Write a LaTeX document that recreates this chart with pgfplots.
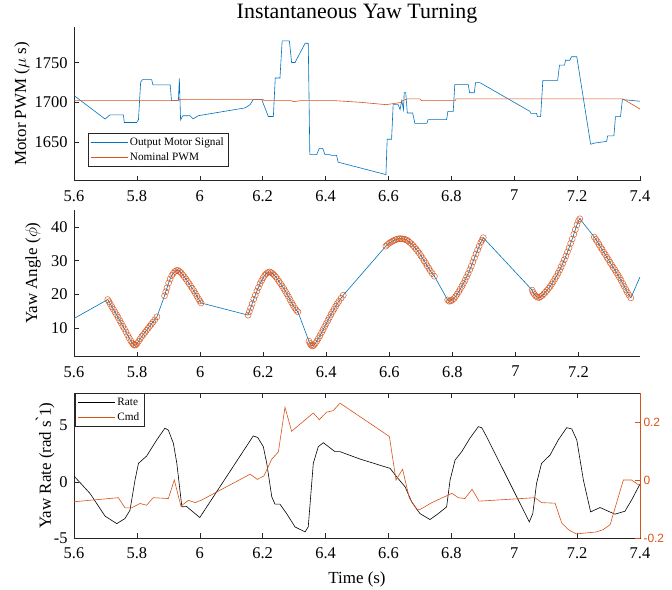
\documentclass[border=0pt]{standalone}
\usepackage{fontspec}
\setmainfont{Liberation Serif}
\newfontfamily\helv{Liberation Sans}
\usepackage{pgfplots}
\usepackage{pgfplotstable}
\pgfplotsset{compat=1.18}
\definecolor{mblue}{rgb}{0,0.447,0.741}
\definecolor{morange}{rgb}{0.85,0.325,0.098}
\definecolor{axgray}{rgb}{0.15,0.15,0.15}
\pgfplotsset{
 myaxis/.style={
  scale only axis, width=566bp, anchor=south west,
  xmin=5.6, xmax=7.4,
  /pgf/number format/assume math mode=true,
  /pgf/number format/1000 sep={},
  tick label style={font=\fontsize{16.5}{18}\selectfont},
  xticklabel style={yshift=-6bp},
  yticklabel style={xshift=-3bp},
  label style={font=\fontsize{17}{19}\selectfont},
  axis line style={axgray, line width=0.5bp},
  every tick/.style={axgray, line width=0.5bp},
  major tick length=5bp,
  xtick={5.6,5.8,6,6.2,6.4,6.6,6.8,7,7.2,7.4},
  tick align=inside,
  legend cell align=left,
  legend style={draw=axgray, line width=0.5bp, fill=white, font=\fontsize{11.3}{13}\selectfont,
    inner sep=2.5bp, row sep=1.5bp},
  legend image code/.code={\draw[#1] (0bp,0bp) -- (37bp,0bp);},
 },
 nobox/.style={axis lines*=left, axis line style={-}, tick align=inside},
}
% yaw angle samples that carry circle markers
\pgfplotstableread{
x y
5.707 18.5
5.711 17.9
5.715 17.2
5.720 16.4
5.725 15.6
5.730 14.8
5.735 14.0
5.740 13.2
5.745 12.3
5.750 11.5
5.755 10.6
5.760 9.8
5.765 8.9
5.770 8.0
5.775 7.1
5.780 6.3
5.785 5.6
5.789 5.2
5.792 5.0
5.796 5.1
5.800 5.5
5.805 6.2
5.810 6.9
5.815 7.6
5.820 8.2
5.825 8.8
5.830 9.4
5.835 10.0
5.840 10.6
5.845 11.2
5.850 11.8
5.856 12.5
5.863 13.4
5.887 19.6
5.891 20.8
5.895 22.0
5.900 23.4
5.905 24.6
5.910 25.6
5.915 26.3
5.920 26.8
5.925 27.1
5.930 27.1
5.935 26.8
5.940 26.4
5.945 25.8
5.950 25.2
5.955 24.6
5.960 23.9
5.965 23.2
5.970 22.5
5.975 21.8
5.980 21.1
5.985 20.3
5.990 19.5
5.995 18.7
5.999 18.1
6.003 17.5
6.152 13.9
6.156 14.9
6.160 16.0
6.165 17.3
6.170 18.6
6.175 19.8
6.180 21.0
6.185 22.1
6.190 23.2
6.195 24.1
6.200 25.0
6.205 25.7
6.210 26.2
6.215 26.5
6.220 26.7
6.225 26.5
6.230 26.2
6.235 25.7
6.240 25.2
6.245 24.6
6.250 23.9
6.255 23.2
6.260 22.5
6.265 21.8
6.270 21.0
6.275 20.2
6.280 19.4
6.285 18.5
6.290 17.6
6.295 16.8
6.300 16.0
6.305 15.4
6.310 14.9
6.345 6.2
6.349 5.5
6.352 5.0
6.356 4.8
6.360 4.9
6.365 5.5
6.370 6.2
6.375 7.0
6.380 7.8
6.385 8.7
6.390 9.6
6.395 10.5
6.400 11.4
6.405 12.3
6.410 13.2
6.415 14.1
6.420 14.9
6.425 15.7
6.430 16.5
6.435 17.3
6.440 18.0
6.447 18.9
6.454 19.8
6.589 34.3
6.594 34.8
6.600 35.2
6.605 35.5
6.610 35.8
6.615 36.0
6.620 36.2
6.625 36.4
6.630 36.5
6.635 36.5
6.640 36.5
6.645 36.4
6.650 36.3
6.655 36.1
6.660 35.8
6.665 35.4
6.670 35.0
6.675 34.5
6.680 34.0
6.685 33.4
6.690 32.8
6.695 32.2
6.700 31.5
6.705 30.8
6.710 30.0
6.715 29.3
6.720 28.5
6.725 27.8
6.730 27.0
6.736 26.2
6.743 25.4
6.785 18.4
6.790 18.0
6.795 18.1
6.800 18.4
6.805 18.8
6.810 19.4
6.815 20.1
6.820 20.8
6.825 21.6
6.830 22.4
6.835 23.3
6.840 24.2
6.845 25.2
6.850 26.2
6.855 27.3
6.860 28.4
6.865 29.6
6.870 30.8
6.875 32.0
6.880 33.2
6.885 34.3
6.890 35.4
6.894 36.1
6.898 36.8
7.053 21.3
7.056 20.6
7.060 20.0
7.065 19.5
7.070 19.2
7.075 19.1
7.080 19.4
7.085 19.7
7.090 20.2
7.095 20.7
7.100 21.2
7.105 21.8
7.110 22.4
7.115 23.1
7.120 23.8
7.125 24.6
7.130 25.4
7.135 26.3
7.140 27.2
7.145 28.2
7.150 29.2
7.155 30.3
7.160 31.4
7.165 32.6
7.170 33.8
7.175 35.1
7.180 36.4
7.185 37.8
7.190 39.2
7.195 40.6
7.200 41.8
7.204 42.4
7.250 37.0
7.255 36.3
7.260 35.6
7.265 34.8
7.270 34.0
7.275 33.3
7.280 32.5
7.285 31.8
7.290 31.0
7.295 30.3
7.300 29.5
7.305 28.8
7.310 28.0
7.315 27.3
7.320 26.5
7.325 25.8
7.330 25.0
7.335 24.2
7.340 23.3
7.345 22.4
7.350 21.5
7.355 20.6
7.360 19.8
7.366 19.0
}\anglecirc
\begin{document}
\begin{tikzpicture}
\useasboundingbox (0,0) rectangle (672bp,590bp);
% ---------------- top panel
\begin{axis}[myaxis, nobox, at={(74bp,409.3bp)}, height=153.7bp,
  ymin=1601, ymax=1795, ytick={1650,1700,1750},
  ylabel={Motor PWM ($\mu$ s)},
  ylabel style={at={(axis description cs:-0.092,0.5)}, anchor=center},
  title={Instantaneous Yaw Turning},
  title style={font=\fontsize{22}{24}\selectfont, at={(axis description cs:0.5,1)}, anchor=base, yshift=3bp},
  legend style={at={(axis description cs:0.024,0.312)}, anchor=north west},
]
\addplot[mblue, line width=0.6bp] coordinates {
(5.600,1708.5)(5.699,1678.8)(5.714,1684.0)(5.757,1684.0)(5.760,1674.5)(5.799,1674.5)(5.805,1678.0)
(5.812,1725.5)(5.818,1728.6)(5.847,1728.6)(5.851,1722.0)(5.906,1722.0)(5.910,1702.0)(5.932,1702.0)
(5.935,1730.0)(5.939,1677.5)(5.946,1683.0)(5.969,1683.0)(5.979,1679.0)(5.995,1683.0)
(6.144,1692.9)(6.160,1697.0)(6.170,1703.4)(6.197,1703.4)(6.218,1682.0)(6.234,1682.0)(6.240,1730.6)
(6.255,1730.6)(6.262,1777.4)(6.285,1777.4)(6.292,1750.2)(6.303,1750.2)(6.335,1774.5)(6.345,1774.5)
(6.350,1634.0)(6.372,1634.0)(6.380,1641.8)(6.391,1641.8)(6.398,1634.0)(6.414,1634.0)(6.418,1633.0)
(6.435,1633.0)(6.440,1624.4)(6.592,1608.7)(6.596,1653.3)(6.610,1653.3)(6.615,1697.0)(6.631,1697.0)
(6.637,1690.7)(6.642,1702.0)(6.648,1690.7)(6.650,1712.0)(6.655,1712.0)(6.660,1686.5)(6.677,1686.5)
(6.684,1673.3)(6.722,1673.3)(6.726,1678.0)(6.785,1678.0)(6.789,1688.5)(6.806,1688.5)(6.811,1722.2)
(6.854,1722.2)(6.858,1712.0)(6.873,1712.0)(6.877,1724.7)(6.891,1724.7)(7.050,1688.5)(7.053,1686.0)
(7.071,1686.0)(7.074,1681.8)(7.084,1681.8)(7.091,1727.7)(7.138,1727.7)(7.144,1746.8)(7.160,1746.8)
(7.163,1753.0)(7.177,1753.0)(7.182,1757.4)(7.199,1757.4)(7.243,1647.0)(7.257,1648.6)(7.294,1650.6)
(7.297,1657.5)(7.317,1657.5)(7.322,1681.8)(7.338,1681.8)(7.344,1703.4)(7.400,1701.3)
};
\addlegendentry{Output Motor Signal}
\addplot[morange, line width=0.6bp] coordinates {
(5.600,1702.0)(5.930,1702.0)(5.935,1703.7)(6.200,1703.7)(6.205,1702.0)(6.290,1702.0)(6.300,1700.8)
(6.320,1702.0)(6.430,1702.0)(6.509,1700.0)(6.592,1697.0)(6.640,1699.7)(6.645,1702.0)(6.660,1704.3)
(6.700,1704.3)(6.705,1702.0)(6.812,1702.0)(6.815,1704.3)(7.345,1704.3)(7.400,1691.5)
};
\addlegendentry{Nominal PWM}
\end{axis}
% ---------------- middle panel
\begin{axis}[myaxis, nobox, at={(74bp,233.3bp)}, height=146.7bp,
  xmax=7.395, ymin=1.6, ymax=45, ytick={10,20,30,40},
  ylabel={Yaw Angle ($\phi$)},
  ylabel style={at={(axis description cs:-0.0725,0.57)}, anchor=center},
]
\addplot[mblue, line width=0.6bp] coordinates {(5.600,12.9)(5.707,18.5)};
\addplot[mblue, line width=0.6bp] table[x=x, y=y] {\anglecirc};
\addplot[mblue, line width=0.6bp] coordinates {(7.366,19.0)(7.395,25.2)};
\addplot[only marks, mark=o, mark size=3bp, mark options={morange, line width=0.45bp}] table[x=x, y=y] {\anglecirc};
\end{axis}
% ---------------- bottom panel, left axis
\begin{axis}[myaxis, at={(74bp,52bp)}, height=145bp,
  ymin=-5, ymax=7.9, ytick={-5,0,5}, ytick pos=left,
  ylabel={Yaw Rate (rad s\`{ }1)},
  ylabel style={at={(axis description cs:-0.051,0.5)}, anchor=center},
  xlabel={Time (s)},
  xlabel style={at={(axis description cs:0.5,0)}, anchor=base, yshift=-45bp},
  legend style={at={(axis description cs:0.002,0.998)}, anchor=north west},
]
\addplot[black, line width=0.6bp] coordinates {
(5.600,0.51)(5.651,-1.04)(5.699,-3.06)(5.736,-3.72)(5.762,-3.27)(5.778,-2.53)(5.794,0.15)(5.805,1.64)
(5.831,2.29)(5.863,3.72)(5.889,4.77)(5.900,4.60)(5.916,3.43)(5.927,1.64)(5.943,-2.23)(5.958,-2.20)
(6.000,-3.18)(6.170,4.08)(6.184,3.95)(6.202,3.13)(6.213,1.64)(6.229,-1.34)(6.239,-1.99)(6.255,-1.99)
(6.276,-2.82)(6.303,-4.02)(6.335,-4.46)(6.345,-4.00)(6.361,1.64)(6.377,3.13)(6.393,3.48)(6.409,3.13)
(6.430,2.68)(6.446,2.68)(6.509,2.03)(6.594,1.29)(6.605,1.20)(6.626,0.45)(6.653,-0.45)(6.674,-1.79)
(6.700,-2.82)(6.732,-3.36)(6.759,-2.82)(6.785,-2.23)(6.796,0.15)(6.812,1.94)(6.833,2.68)(6.859,3.87)
(6.886,4.91)(6.897,4.80)(6.912,4.02)(7.048,-3.57)(7.059,-2.82)(7.071,-0.14)(7.087,1.64)(7.114,2.38)
(7.140,3.72)(7.167,4.82)(7.183,4.70)(7.199,3.72)(7.220,0.15)(7.243,-2.68)(7.273,-2.29)(7.320,-2.88)
(7.352,-2.62)(7.373,-1.63)(7.400,-0.20)
};
\addlegendentry{Rate}
\addlegendimage{morange, line width=0.6bp}
\addlegendentry{Cmd}
\end{axis}
% ---------------- bottom panel, right axis
\begin{axis}[myaxis, at={(74bp,52bp)}, height=145bp,
  axis y line*=right, axis x line=none,
  ymin=-0.2, ymax=0.3, ytick={-0.2,0,0.2},
  y axis line style={morange, line width=0.6bp},
  ytick style={morange, line width=0.6bp},
  yticklabel style={font=\helv\fontsize{12}{14}\selectfont, text=morange, xshift=3bp},
]
\addplot[morange, line width=0.6bp] coordinates {
(5.600,-0.075)(5.741,-0.061)(5.762,-0.096)(5.783,-0.096)(5.810,-0.081)(5.831,-0.087)(5.852,-0.061)
(5.900,-0.064)(5.919,0.000)(5.940,-0.090)(5.964,-0.070)(5.985,-0.078)(6.006,-0.069)(6.160,0.020)
(6.183,0.002)(6.204,0.014)(6.229,0.072)(6.250,0.097)(6.271,0.251)(6.292,0.168)(6.361,0.231)
(6.380,0.208)(6.403,0.234)(6.424,0.239)(6.446,0.265)(6.603,0.150)(6.624,0.000)(6.645,0.037)
(6.666,-0.061)(6.690,-0.102)(6.700,-0.102)(6.738,-0.078)(6.802,-0.046)(6.822,-0.061)(6.843,-0.064)
(6.866,-0.032)(6.888,-0.073)(7.066,-0.061)(7.087,-0.078)(7.130,-0.080)(7.151,-0.148)(7.172,-0.171)
(7.197,-0.186)(7.262,-0.179)(7.283,-0.171)(7.305,-0.154)(7.347,0.000)(7.373,0.000)(7.397,-0.018)
};
\end{axis}
\end{tikzpicture}
\end{document}
